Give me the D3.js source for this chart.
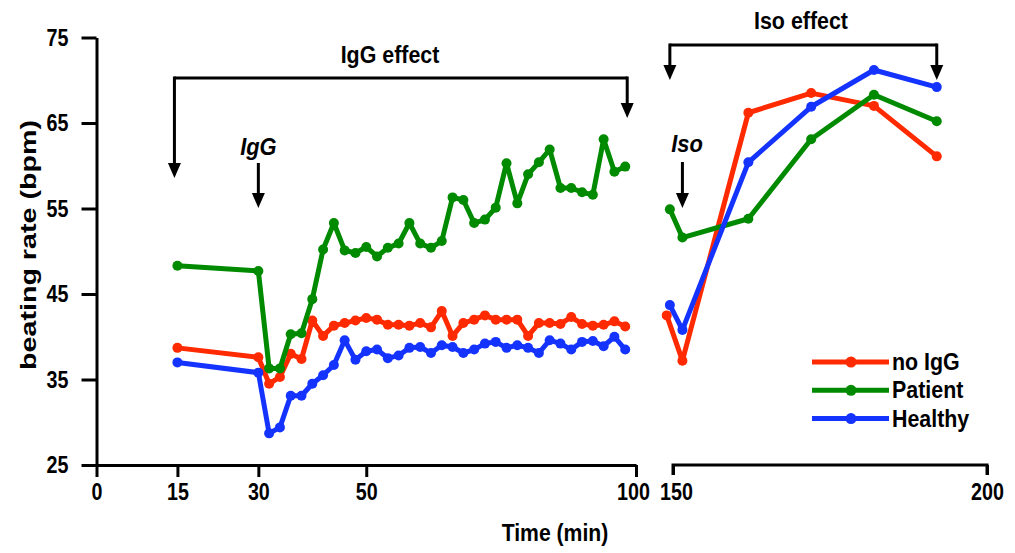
<!DOCTYPE html>
<html>
<head>
<meta charset="utf-8">
<script src="https://cdn.jsdelivr.net/npm/d3@7"></script>
<style>
  html, body { margin: 0; padding: 0; background: #fff; }
  svg text { font-family: "Liberation Sans", Arial, sans-serif; font-weight: bold; fill: #000; }
</style>
</head>
<body>
<svg id="chart" width="1015" height="553"></svg>
<script>
// ---- data ----
const timeIgG = [15, 30, 32, 34, 36, 38, 40, 42, 44, 46, 48, 50, 52, 54, 56, 58, 60, 62, 64, 66, 68, 70, 72, 74, 76, 78, 80, 82, 84, 86, 88, 90, 92, 94, 96, 98];
const noIgG_A = [38.7, 37.6, 34.5, 35.3, 38.0, 37.4, 41.9, 40.1, 41.3, 41.6, 41.9, 42.2, 42.0, 41.4, 41.4, 41.3, 41.6, 41.1, 43.0, 40.1, 41.6, 42.0, 42.5, 42.0, 42.0, 42.0, 40.1, 41.6, 41.6, 41.5, 42.3, 41.5, 41.3, 41.4, 41.8, 41.2];
const patient_A = [48.3, 47.7, 36.3, 36.3, 40.3, 40.4, 44.4, 50.2, 53.3, 50.1, 49.8, 50.5, 49.4, 50.4, 50.9, 53.3, 50.9, 50.4, 51.2, 56.3, 56.0, 53.3, 53.7, 55.1, 60.3, 55.6, 59.0, 60.4, 61.9, 57.4, 57.4, 56.9, 56.6, 63.1, 59.3, 59.9];
const healthy_A = [37.0, 35.8, 28.7, 29.4, 33.1, 33.1, 34.5, 35.5, 36.7, 39.6, 37.3, 38.3, 38.5, 37.5, 37.8, 38.7, 38.8, 38.1, 39.0, 38.8, 38.1, 38.5, 39.2, 39.4, 38.7, 39.0, 38.7, 38.1, 39.6, 39.2, 38.5, 39.4, 39.5, 38.9, 40.0, 38.5];

const timeIsoRed = [149, 151.5, 162, 172, 182, 192];
const timeIso = [149.5, 151.5, 162, 172, 182, 192];
const noIgG_B = [42.5, 37.2, 66.2, 68.5, 67.0, 61.1];
const patient_B = [54.9, 51.6, 53.8, 63.1, 68.3, 65.2];
const healthy_B = [43.7, 40.8, 60.4, 66.9, 71.2, 69.2];

const seriesNames = ["no IgG", "Patient", "Healthy"];
const seriesColors = ["#ff2a00", "#008a00", "#1433ff"];

const yTicks = [25, 35, 45, 55, 65, 75];
const xTicksA = [0, 15, 30, 50, 100];
const xTicksB = [150, 200];

// ---- helpers ----
function squeeze(sel, factor) {
  sel.each(function () {
    const w = this.getComputedTextLength();
    d3.select(this).attr("textLength", w * factor).attr("lengthAdjust", "spacingAndGlyphs");
  });
}

// ---- scales ----
const svg = d3.select("#chart");
const y = d3.scaleLinear().domain([25, 75]).range([465, 37.5]);
const xA = d3.scaleLinear().domain([0, 100]).range([96.5, 636]);
const xB = d3.scaleLinear().domain([150, 200]).range([673, 987]);

// ---- axes ----
const yAxis = svg.append("g").attr("transform", `translate(${xA(0)},0)`)
  .call(d3.axisLeft(y).tickValues(yTicks).tickSize(15).tickSizeOuter(0).tickPadding(13));
const xAxisA = svg.append("g").attr("transform", `translate(0,${y(25)})`)
  .call(d3.axisBottom(xA).tickValues(xTicksA).tickSize(12).tickSizeOuter(0).tickPadding(6));
const xAxisB = svg.append("g").attr("transform", `translate(0,${y(25)})`)
  .call(d3.axisBottom(xB).tickValues(xTicksB).tickSize(10).tickSizeOuter(0).tickPadding(8));

[yAxis, xAxisA, xAxisB].forEach(g => {
  g.selectAll("path, line").attr("stroke", "#000").attr("stroke-width", 3);
  g.selectAll("text").attr("font-size", 24).attr("font-family", '"Liberation Sans", Arial, sans-serif')
    .attr("font-weight", "bold").attr("fill", "#000");
  squeeze(g.selectAll("text"), 0.82);
});
xAxisA.selectAll(".tick text").filter(d => d === 100).attr("dx", -3);
xAxisB.selectAll(".tick text").filter(d => d === 150).attr("dx", 3);
xAxisB.select(".domain").attr("d", `M${xB(150)},10V0H${xB(200)}V10`);

// axis titles
const yTitle = svg.append("text").attr("transform", "translate(36,245) rotate(-90)")
  .attr("text-anchor", "middle").attr("font-size", 22).text("beating rate (bpm)");
yTitle.attr("textLength", 250).attr("lengthAdjust", "spacingAndGlyphs");
const xTitle = svg.append("text").attr("x", 555).attr("y", 541).attr("text-anchor", "middle")
  .attr("font-size", 23).text("Time (min)");
squeeze(xTitle, 0.92);

// ---- lines ----
const line = d3.line().x(d => d[0]).y(d => y(d[1]));
function drawSeries(times, vals, xs, color) {
  const pts = times.map((t, i) => [xs(t), vals[i]]);
  svg.append("path").attr("d", line(pts)).attr("fill", "none").attr("stroke", color)
    .attr("stroke-width", 5).attr("stroke-linejoin", "round").attr("stroke-linecap", "round");
  svg.append("g").selectAll("circle").data(pts).join("circle")
    .attr("cx", d => d[0]).attr("cy", d => y(d[1])).attr("r", 5).attr("fill", color);
}
const leftVals = [noIgG_A, patient_A, healthy_A];
const rightVals = [noIgG_B, patient_B, healthy_B];
const rightTimes = [timeIsoRed, timeIso, timeIso];
seriesNames.forEach((n, i) => {
  drawSeries(timeIgG, leftVals[i], xA, seriesColors[i]);
  drawSeries(rightTimes[i], rightVals[i], xB, seriesColors[i]);
});

// ---- annotations ----
function arrowDown(x, y0, y1) {
  svg.append("line").attr("x1", x).attr("x2", x).attr("y1", y0).attr("y2", y1 - 12)
    .attr("stroke", "#000").attr("stroke-width", 3);
  svg.append("path").attr("d", `M${x - 6.5},${y1 - 15}L${x + 6.5},${y1 - 15}L${x},${y1}Z`).attr("fill", "#000");
}
function bracket(xl, xr, yTop, yl, yr) {
  svg.append("path").attr("d", `M${xl},${yTop}H${xr}`).attr("stroke", "#000").attr("stroke-width", 3).attr("fill", "none");
  arrowDown(xl, yTop - 1.5, yl);
  arrowDown(xr, yTop - 1.5, yr);
}
bracket(xA(15) - 3, xA(98) + 2, 78, 178, 118);
const t1 = svg.append("text").attr("x", 390).attr("y", 63).attr("text-anchor", "middle").attr("font-size", 23).text("IgG effect");
squeeze(t1, 0.93);
bracket(xB(149.5), xB(192), 45, 80, 80);
const t2 = svg.append("text").attr("x", 801).attr("y", 29).attr("text-anchor", "middle").attr("font-size", 23).text("Iso effect");
squeeze(t2, 0.93);

const t3 = svg.append("text").attr("x", xA(30)).attr("y", 155).attr("text-anchor", "middle").attr("font-size", 23)
  .attr("font-style", "italic").text("IgG");
squeeze(t3, 0.95);
arrowDown(xA(30), 163, 208);
const t4 = svg.append("text").attr("x", 687).attr("y", 152).attr("text-anchor", "middle").attr("font-size", 23)
  .attr("font-style", "italic").text("Iso");
squeeze(t4, 0.95);
arrowDown(xB(151.5), 162, 208);

// ---- legend ----
const legend = svg.append("g");
seriesNames.forEach((n, i) => {
  const ly = 362 + i * 28.3;
  legend.append("line").attr("x1", 812).attr("x2", 889).attr("y1", ly).attr("y2", ly)
    .attr("stroke", seriesColors[i]).attr("stroke-width", 5);
  legend.append("circle").attr("cx", 851).attr("cy", ly).attr("r", 5.5).attr("fill", seriesColors[i]);
  const lt = legend.append("text").attr("x", 892).attr("y", ly + 8).attr("font-size", 23).text(n);
  squeeze(lt, 0.93);
});
</script>
</body>
</html>
